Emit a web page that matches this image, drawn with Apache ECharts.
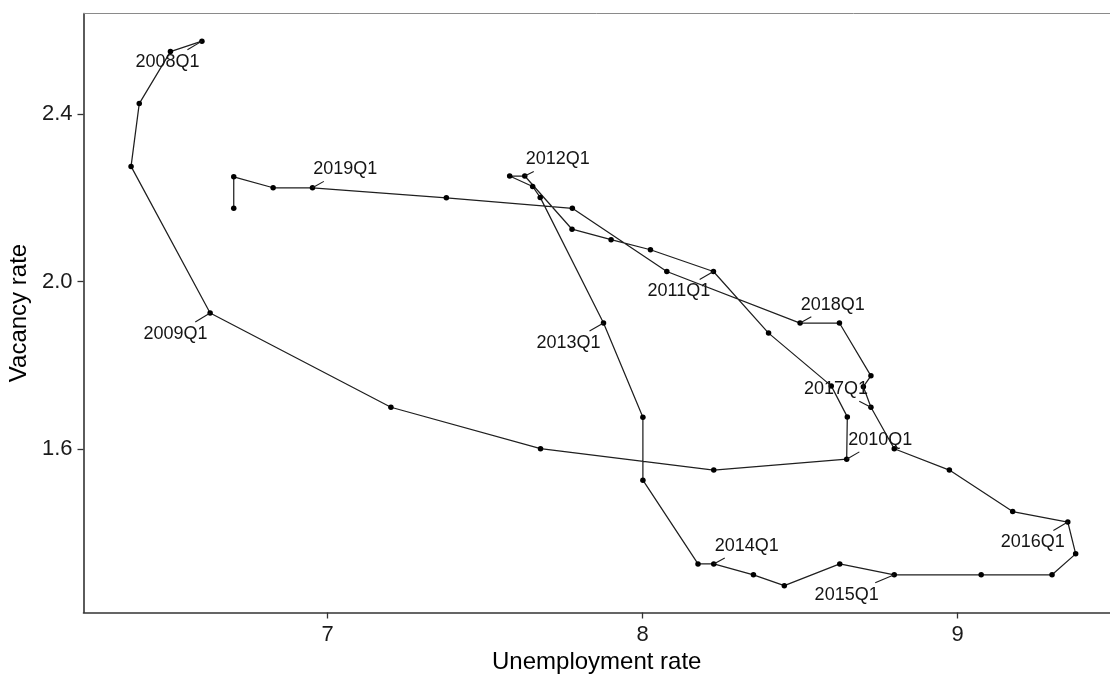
<!DOCTYPE html>
<html>
<head>
<meta charset="utf-8">
<script src="https://cdn.jsdelivr.net/npm/echarts@6/dist/echarts.min.js"></script>
<style>
html,body{margin:0;padding:0;background:#ffffff;}
#chart{width:1110px;height:675px;}
</style>
</head>
<body>
<div id="chart"></div>
<script>
// ---- data ----
const quarters = [
  '2008Q1','2008Q2','2008Q3','2008Q4',
  '2009Q1','2009Q2','2009Q3','2009Q4',
  '2010Q1','2010Q2','2010Q3','2010Q4',
  '2011Q1','2011Q2','2011Q3','2011Q4',
  '2012Q1','2012Q2','2012Q3','2012Q4',
  '2013Q1','2013Q2','2013Q3','2013Q4',
  '2014Q1','2014Q2','2014Q3','2014Q4',
  '2015Q1','2015Q2','2015Q3','2015Q4',
  '2016Q1','2016Q2','2016Q3','2016Q4',
  '2017Q1','2017Q2','2017Q3','2017Q4',
  '2018Q1','2018Q2','2018Q3','2018Q4',
  '2019Q1','2019Q2','2019Q3','2019Q4'
];
const unemployment = [
  6.601, 6.501, 6.402, 6.376,
  6.627, 7.201, 7.676, 8.226,
  8.648, 8.650, 8.599, 8.400,
  8.225, 8.025, 7.900, 7.776,
  7.626, 7.578, 7.651, 7.675,
  7.876, 8.001, 8.001, 8.176,
  8.226, 8.352, 8.450, 8.626,
  8.799, 9.075, 9.300, 9.375,
  9.350, 9.175, 8.974, 8.799,
  8.725, 8.701, 8.725, 8.625,
  8.500, 8.077, 7.777, 7.377,
  6.952, 6.827, 6.702, 6.702
];
const vacancy = [
  2.574, 2.549, 2.425, 2.275,
  1.925, 1.700, 1.601, 1.550,
  1.576, 1.677, 1.751, 1.877,
  2.024, 2.076, 2.100, 2.125,
  2.252, 2.252, 2.227, 2.201,
  1.901, 1.676, 1.526, 1.326,
  1.326, 1.300, 1.274, 1.326,
  1.300, 1.300, 1.300, 1.350,
  1.426, 1.451, 1.550, 1.601,
  1.700, 1.749, 1.775, 1.901,
  1.901, 2.024, 2.175, 2.200,
  2.224, 2.224, 2.250, 2.175
];
const xTicks = [7, 8, 9];
const yTicks = [1.6, 2.0, 2.4];
const xTitle = 'Unemployment rate';
const yTitle = 'Vacancy rate';

// ---- label placement (style, not data): offset of label centre from its point, px ----
const labelOffsets = [
  [-34.5, 20.7], [-34.7, 21], [33.5, -19.3], [-34.5, 20],
  [33, -16.5], [-35, 20], [33, -18], [-47.6, 20],
  [-35, 20.4], [-35, -18], [32.7, -18.3], [32.7, -18.4]
];

const FONT = "'Liberation Sans', Arial, Helvetica, sans-serif";
const LABEL_SIZE = 18;
const pathData = quarters.map((q, i) => ({ name: q, value: [unemployment[i], vacancy[i]] }));
const q1Data = pathData.filter(d => d.name.endsWith('Q1'));

// measure label text for the repel-style leader segments
const mctx = document.createElement('canvas').getContext('2d');
mctx.font = LABEL_SIZE + 'px ' + FONT;
function textHalfWidth(t) { return mctx.measureText(t).width / 2; }

function renderLabel(params, api) {
  const p = api.coord([api.value(0), api.value(1)]);
  const d = q1Data[params.dataIndex];
  const o = labelOffsets[params.dataIndex] || [0, 0];
  const cx = p[0] + o[0], cy = p[1] + o[1];
  const hw = textHalfWidth(d.name) + 3, hh = LABEL_SIZE / 2 + 3;
  const tx = o[0] !== 0 ? 1 - hw / Math.abs(o[0]) : -Infinity;
  const ty = o[1] !== 0 ? 1 - hh / Math.abs(o[1]) : -Infinity;
  const t = Math.max(tx, ty);
  const children = [];
  if (t > 0.05) {
    children.push({
      type: 'line',
      shape: { x1: p[0], y1: p[1], x2: p[0] + o[0] * t, y2: p[1] + o[1] * t },
      style: { stroke: '#1a1a1a', lineWidth: 1.1 },
      silent: true
    });
  }
  children.push({
    type: 'text', x: cx, y: cy, silent: true,
    style: {
      text: d.name, fill: '#141414', font: LABEL_SIZE + 'px ' + FONT,
      align: 'center', verticalAlign: 'middle'
    }
  });
  return { type: 'group', children: children };
}

const chart = echarts.init(document.getElementById('chart'), null, { renderer: 'canvas' });
chart.setOption({
  animation: false,
  backgroundColor: '#ffffff',
  grid: {
    left: 83.5, top: 13.5, right: 0, bottom: 62.5, show: false,
    containLabel: false, outerBoundsMode: 'none'
  },
  xAxis: [
    {
      type: 'value', min: 6.225, max: 9.484,
      splitLine: { show: false },
      axisLine: { show: true, onZero: false, lineStyle: { color: '#333333', width: 1.6 } },
      axisTick: { show: true, customValues: xTicks, length: 6, lineStyle: { color: '#333333', width: 1.3 } },
      axisLabel: { customValues: xTicks, fontSize: 22, color: '#1a1a1a', fontFamily: FONT, margin: 11,
        formatter: v => String(v) },
      name: xTitle, nameLocation: 'middle', nameGap: 37,
      nameTextStyle: { fontSize: 24, color: '#000', fontFamily: FONT }
    },
    {
      type: 'value', position: 'top', min: 6.225, max: 9.484,
      splitLine: { show: false },
      axisLine: { show: true, onZero: false, lineStyle: { color: '#8a8a8a', width: 1 } },
      axisTick: { show: false }, axisLabel: { show: false }
    }
  ],
  yAxis: {
    type: 'value', min: 1.21, max: 2.64,
    splitLine: { show: false },
    axisLine: { show: true, onZero: false, lineStyle: { color: '#333333', width: 1.6 } },
    axisTick: { show: true, customValues: yTicks, length: 6, lineStyle: { color: '#333333', width: 1.3 } },
    axisLabel: { customValues: yTicks, fontSize: 22, color: '#1a1a1a', fontFamily: FONT, margin: 11,
      formatter: v => v.toFixed(1) },
    name: yTitle, nameLocation: 'middle', nameGap: 41,
    nameTextStyle: { fontSize: 24, color: '#000', fontFamily: FONT }
  },
  series: [
    {
      type: 'line',
      data: pathData,
      symbol: 'circle',
      symbolSize: 5.5,
      showSymbol: true,
      silent: true,
      itemStyle: { color: '#000000' },
      lineStyle: { color: '#1f1f1f', width: 1.25 },
      z: 2
    },
    {
      type: 'custom',
      data: q1Data,
      encode: { x: 0, y: 1 },
      renderItem: renderLabel,
      silent: true,
      z: 3
    }
  ]
});
</script>
</body>
</html>
